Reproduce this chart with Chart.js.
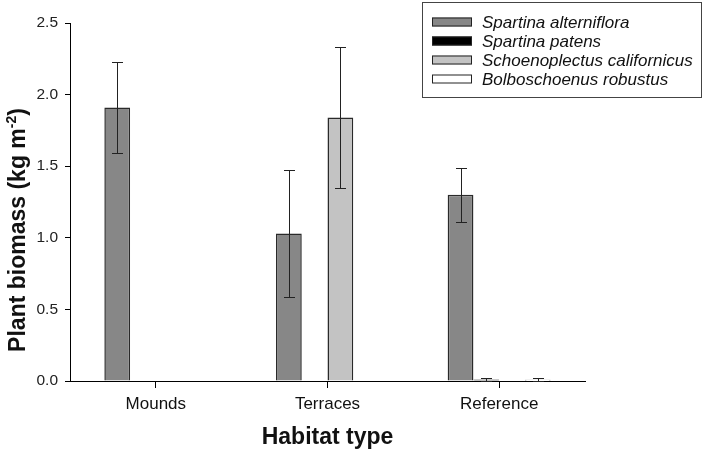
<!DOCTYPE html>
<html>
<head>
<meta charset="utf-8">
<script src="https://cdn.jsdelivr.net/npm/chart.js@4.4.0/dist/chart.umd.min.js"></script>
<style>
  html, body { margin: 0; padding: 0; background: #fff; }
  #wrap { width: 706px; height: 451px; position: relative; }
</style>
</head>
<body>
<div id="wrap"><canvas id="biomass-chart"></canvas></div>
<script>
// Habitat categories and species
const habitats = ['Mounds', 'Terraces', 'Reference'];
const species = ['Spartina alterniflora', 'Spartina patens', 'Schoenoplectus californicus', 'Bolboschoenus robustus'];

// Mean plant biomass (kg m-2), null = not present
const alterniflora = [1.91, 1.03, 1.30];
const patens = [null, null, 0.01];
const californicus = [null, 1.84, null];
const robustus = [null, null, 0.009];

// Standard errors
const alternifloraErr = [0.315, 0.44, 0.19];
const patensErr = [null, null, 0.013];
const californicusErr = [null, 0.49, null];
const robustusErr = [null, null, 0.012];

const yTicks = [0, 0.5, 1.0, 1.5, 2.0, 2.5];

const fills = ['#878787', '#000000', '#c3c3c3', '#ffffff'];
const fontFamily = '"Liberation Sans", Arial, Helvetica, sans-serif';

// draws the error bars from each dataset's errors array
const errorBars = {
    id: 'errorBars',
    afterDatasetsDraw(chart) {
        const ctx = chart.ctx;
        const yScale = chart.scales.y;
        ctx.save();
        ctx.strokeStyle = '#222';
        ctx.lineWidth = 1;
        chart.data.datasets.forEach((ds, i) => {
            const meta = chart.getDatasetMeta(i);
            meta.data.forEach((bar, j) => {
                const v = ds.data[j];
                const e = ds.errors[j];
                if (v == null || e == null) return;
                const x = Math.round(bar.x) + 0.5;
                const top = Math.round(yScale.getPixelForValue(v + e)) + 0.5;
                const bot = Math.round(yScale.getPixelForValue(Math.max(v - e, 0))) + 0.5;
                ctx.beginPath();
                ctx.moveTo(x, top);
                ctx.lineTo(x, bot);
                ctx.moveTo(x - 5.5, top);
                ctx.lineTo(x + 5.5, top);
                ctx.moveTo(x - 5.5, bot);
                ctx.lineTo(x + 5.5, bot);
                ctx.stroke();
            });
        });
        ctx.restore();
    }
};

// y title with a real superscript, sits a bit below the axis middle like the original
const yTitle = {
    id: 'yTitle',
    afterDraw(chart) {
        const ctx = chart.ctx;
        const main = 'Plant biomass (kg m';
        const sup = '-2';
        const tail = ')';
        ctx.save();
        ctx.fillStyle = '#111';
        ctx.textBaseline = 'alphabetic';
        const big = 'bold 23px ' + fontFamily;
        const small = 'bold 14px ' + fontFamily;
        ctx.font = big;
        const w1 = ctx.measureText(main).width;
        const w3 = ctx.measureText(tail).width;
        ctx.font = small;
        const w2 = ctx.measureText(sup).width;
        const total = w1 + w2 + w3;
        ctx.translate(25, 230);
        ctx.rotate(-Math.PI / 2);
        let x = -total / 2;
        ctx.font = big;
        ctx.fillText(main, x, 0);
        x += w1;
        ctx.font = small;
        ctx.fillText(sup, x, -9);
        x += w2;
        ctx.font = big;
        ctx.fillText(tail, x, 0);
        ctx.restore();
    }
};

// boxed legend in the top right corner
const boxLegend = {
    id: 'boxLegend',
    afterDraw(chart) {
        const ctx = chart.ctx;
        ctx.save();
        ctx.strokeStyle = '#444';
        ctx.lineWidth = 1;
        ctx.strokeRect(422.5, 2.5, 279, 95);
        ctx.font = 'italic 17px ' + fontFamily;
        ctx.textBaseline = 'middle';
        chart.data.datasets.forEach((ds, i) => {
            const cy = 22 + i * 19;
            ctx.fillStyle = ds.backgroundColor;
            ctx.fillRect(432, cy - 4.5, 40, 9);
            ctx.strokeStyle = '#222';
            ctx.strokeRect(432.5, cy - 4, 39, 8);
            ctx.fillStyle = '#111';
            ctx.fillText(ds.label, 482, cy + 1);
        });
        ctx.restore();
    }
};

function makeSet(i, data, errors) {
    return {
        label: species[i],
        data: data,
        errors: errors,
        backgroundColor: fills[i],
        borderColor: '#2a2a2a',
        borderWidth: 1.5,
        borderSkipped: 'start',
        categoryPercentage: 0.6,
        barPercentage: 1.0
    };
}

const canvas = document.getElementById('biomass-chart');
new Chart(canvas, {
    type: 'bar',
    data: {
        labels: habitats,
        datasets: [
            makeSet(0, alterniflora, alternifloraErr),
            makeSet(1, patens, patensErr),
            makeSet(2, californicus, californicusErr),
            makeSet(3, robustus, robustusErr)
        ]
    },
    options: {
        responsive: true,
        maintainAspectRatio: false,
        animation: false,
        layout: { padding: { top: 23, right: 121, left: 0, bottom: 0 } },
        plugins: {
            legend: { display: false },
            tooltip: { enabled: false }
        },
        scales: {
            x: {
                offset: true,
                afterFit(scale) { scale.height = 70; },
                grid: { display: true, drawOnChartArea: false, offset: false, tickLength: 7, color: '#000' },
                border: { display: true, color: '#000', width: 1 },
                ticks: { color: '#111', padding: 6, font: { family: fontFamily, size: 17 } },
                title: {
                    display: true,
                    text: 'Habitat type',
                    color: '#111',
                    padding: { top: 0, bottom: 2 },
                    font: { family: fontFamily, size: 23, weight: 'bold', lineHeight: 1 }
                }
            },
            y: {
                min: 0,
                max: 2.5,
                afterFit(scale) { scale.width = 70; },
                afterBuildTicks(scale) { scale.ticks = yTicks.map(v => ({ value: v })); },
                grid: { display: true, drawOnChartArea: false, tickLength: 5, color: '#000' },
                border: { display: true, color: '#000', width: 1 },
                ticks: {
                    color: '#222',
                    padding: 7,
                    font: { family: fontFamily, size: 15.5 },
                    callback: v => Number(v).toFixed(1)
                },
                title: { display: false }
            }
        }
    },
    plugins: [errorBars, yTitle, boxLegend]
});
</script>
</body>
</html>
